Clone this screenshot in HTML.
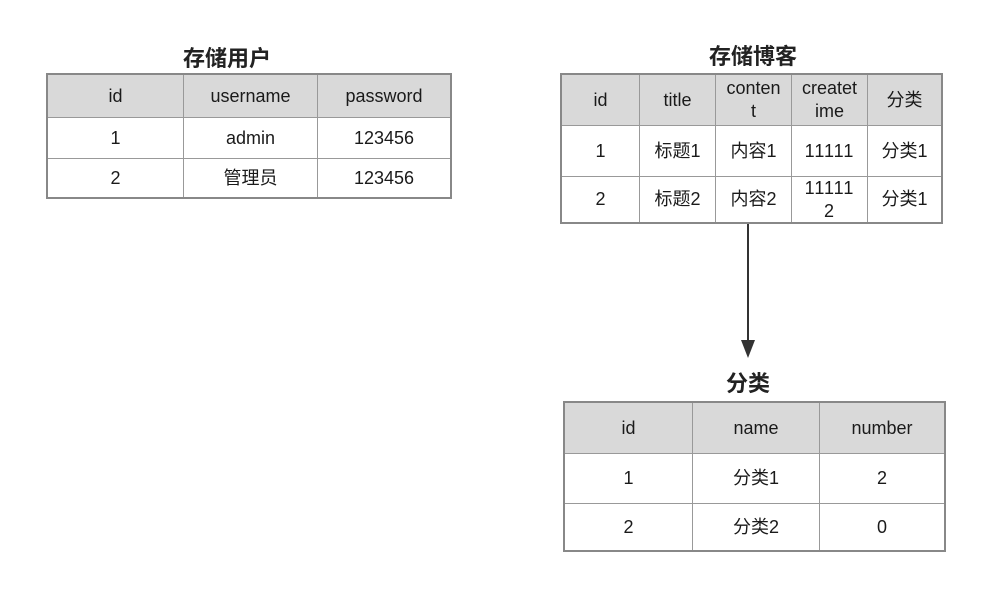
<!DOCTYPE html>
<html><head><meta charset="utf-8"><style>
body{margin:0;width:997px;height:602px;background:#fff;position:relative;overflow:hidden;font-family:"Liberation Sans","Noto Sans CJK SC",sans-serif;color:#1a1a1a}
.t{position:absolute;border:2px solid #888;box-sizing:border-box}
.c{position:absolute;box-sizing:border-box;border-right:1px solid #999;border-bottom:1px solid #999;display:flex;align-items:center;justify-content:center;text-align:center;font-size:18px;line-height:23px}
.h{background:#d9d9d9}
.ttl{position:absolute;font-weight:bold;font-size:22px;text-align:center;transform:translateX(-50%);white-space:nowrap;color:#222}
</style></head><body>
<div class="ttl" style="left:227px;top:41px">存储用户</div>
<div class="ttl" style="left:753px;top:39px">存储博客</div>
<div class="ttl" style="left:748px;top:366px">分类</div>

<div class="t" style="left:46px;top:73px;width:406px;height:126px">
<div class="c h" style="left:0;top:0;width:136px;height:43px">id</div>
<div class="c h" style="left:136px;top:0;width:134px;height:43px">username</div>
<div class="c h" style="left:270px;top:0;width:132px;height:43px;border-right:none">password</div>
<div class="c" style="left:0;top:43px;width:136px;height:41px">1</div>
<div class="c" style="left:136px;top:43px;width:134px;height:41px">admin</div>
<div class="c" style="left:270px;top:43px;width:132px;height:41px;border-right:none">123456</div>
<div class="c" style="left:0;top:84px;width:136px;height:38px;border-bottom:none">2</div>
<div class="c" style="left:136px;top:84px;width:134px;height:38px;border-bottom:none">管理员</div>
<div class="c" style="left:270px;top:84px;width:132px;height:38px;border:none">123456</div>
</div>

<div class="t" style="left:560px;top:73px;width:383px;height:151px">
<div class="c h" style="left:0;top:0;width:78px;height:51px">id</div>
<div class="c h" style="left:78px;top:0;width:76px;height:51px">title</div>
<div class="c h" style="left:154px;top:0;width:76px;height:51px">conten<br>t</div>
<div class="c h" style="left:230px;top:0;width:76px;height:51px">createt<br>ime</div>
<div class="c h" style="left:306px;top:0;width:73px;height:51px;border-right:none">分类</div>
<div class="c" style="left:0;top:51px;width:78px;height:51px">1</div>
<div class="c" style="left:78px;top:51px;width:76px;height:51px">标题1</div>
<div class="c" style="left:154px;top:51px;width:76px;height:51px">内容1</div>
<div class="c" style="left:230px;top:51px;width:76px;height:51px;letter-spacing:1px">11111</div>
<div class="c" style="left:306px;top:51px;width:73px;height:51px;border-right:none">分类1</div>
<div class="c" style="left:0;top:102px;width:78px;height:45px;border-bottom:none">2</div>
<div class="c" style="left:78px;top:102px;width:76px;height:45px;border-bottom:none">标题2</div>
<div class="c" style="left:154px;top:102px;width:76px;height:45px;border-bottom:none">内容2</div>
<div class="c" style="left:230px;top:102px;width:76px;height:45px;border-bottom:none;letter-spacing:1px">11111<br>2</div>
<div class="c" style="left:306px;top:102px;width:73px;height:45px;border:none">分类1</div>
</div>

<div class="t" style="left:563px;top:401px;width:383px;height:151px">
<div class="c h" style="left:0;top:0;width:128px;height:51px">id</div>
<div class="c h" style="left:128px;top:0;width:127px;height:51px">name</div>
<div class="c h" style="left:255px;top:0;width:124px;height:51px;border-right:none">number</div>
<div class="c" style="left:0;top:51px;width:128px;height:50px">1</div>
<div class="c" style="left:128px;top:51px;width:127px;height:50px">分类1</div>
<div class="c" style="left:255px;top:51px;width:124px;height:50px;border-right:none">2</div>
<div class="c" style="left:0;top:101px;width:128px;height:46px;border-bottom:none">2</div>
<div class="c" style="left:128px;top:101px;width:127px;height:46px;border-bottom:none">分类2</div>
<div class="c" style="left:255px;top:101px;width:124px;height:46px;border:none">0</div>
</div>

<svg style="position:absolute;left:0;top:0" width="997" height="602">
<line x1="748" y1="224" x2="748" y2="342" stroke="#333" stroke-width="2"/>
<polygon points="741,340 755,340 748,358" fill="#333"/>
</svg>
</body></html>
